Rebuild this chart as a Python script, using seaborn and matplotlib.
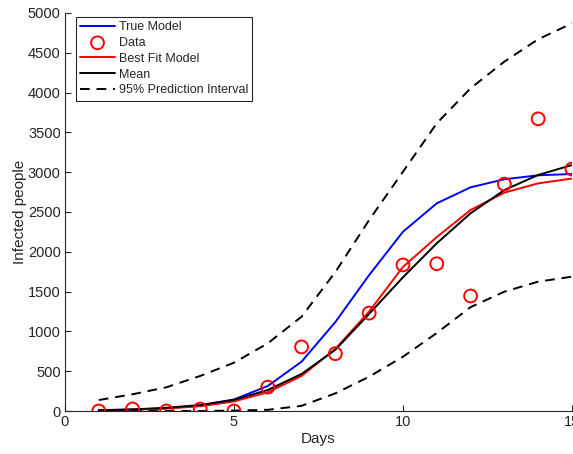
import numpy as np
import pandas as pd
import matplotlib
matplotlib.use("Agg")
import matplotlib.pyplot as plt
import seaborn as sns

# =========================
# Data
# =========================

days = [1, 2, 3, 4, 5, 6, 7, 8, 9, 10, 11, 12, 13, 14, 15]

true_model = [10, 18, 35, 70, 145, 314, 620, 1118, 1708, 2252, 2609, 2810, 2911, 2961, 2977]
observed = [0, 25, 0, 25, 0, 300, 805, 720, 1230, 1835, 1850, 1445, 2850, 3670, 3040]
best_fit = [8, 15, 30, 60, 120, 235, 440, 780, 1250, 1810, 2185, 2525, 2743, 2860, 2920]
mean_curve = [10, 20, 40, 75, 140, 264, 465, 770, 1220, 1680, 2107, 2484, 2776, 2965, 3090]
pi_lower = [0, 0, 0, 0, 5, 15, 65, 222, 431, 682, 980, 1305, 1499, 1625, 1687]
pi_upper = [138, 210, 298, 440, 607, 850, 1185, 1746, 2400, 3006, 3614, 4054, 4389, 4670, 4870]

df = pd.DataFrame({"day": days, "true": true_model, "data": observed, "fit": best_fit,
                   "mean": mean_curve, "lo": pi_lower, "hi": pi_upper})

# =========================
# Style
# =========================

sns.set_style("ticks")
plt.rcParams["font.family"] = ["Liberation Sans", "DejaVu Sans"]
plt.rcParams["xtick.direction"] = "in"
plt.rcParams["ytick.direction"] = "in"

fig = plt.figure(figsize=(5.73, 4.54), dpi=100)
ax = fig.add_axes([0.1134, 0.0947, 0.8848, 0.8767])

lw = 1.4
dash = (0, (5, 3.5))
sns.lineplot(data=df, x="day", y="true", color="#0000ff", lw=lw, ax=ax, label="True Model")
sns.scatterplot(data=df, x="day", y="data", ax=ax, marker="o", s=85, facecolor="none",
                edgecolor="#ff0000", linewidth=1.4, label="Data", zorder=3)
sns.lineplot(data=df, x="day", y="fit", color="#ff0000", lw=lw, ax=ax, label="Best Fit Model")
sns.lineplot(data=df, x="day", y="mean", color="black", lw=lw, ax=ax, label="Mean")
sns.lineplot(data=df, x="day", y="lo", color="black", lw=lw, ls=dash, ax=ax,
             label="95% Prediction Interval")
sns.lineplot(data=df, x="day", y="hi", color="black", lw=lw, ls=dash, ax=ax)

# =========================
# Axes
# =========================

ax.set_xlim(0, 15)
ax.set_ylim(0, 5000)
ax.set_xticks([0, 5, 10, 15])
ax.set_yticks(np.arange(0, 5001, 500))
ax.set_xlabel("Days", fontsize=11, color="#262626", labelpad=2)
ax.set_ylabel("Infected people", fontsize=11, color="#262626", labelpad=1)
ax.tick_params(labelsize=10.5, colors="#262626", length=4, width=0.8, pad=3)
sns.despine(ax=ax)
for s in ["left", "bottom"]:
    ax.spines[s].set_color("#262626")
    ax.spines[s].set_linewidth(0.8)

leg = ax.legend(loc="upper left", bbox_to_anchor=(0.021, 0.99), fontsize=9,
                frameon=True, fancybox=False, edgecolor="#262626", framealpha=1,
                borderpad=0.35, labelspacing=0.3, handlelength=2.8, handletextpad=0.3,
                borderaxespad=0)
leg.get_frame().set_linewidth(0.8)

fig.savefig("out.png", dpi=100)
